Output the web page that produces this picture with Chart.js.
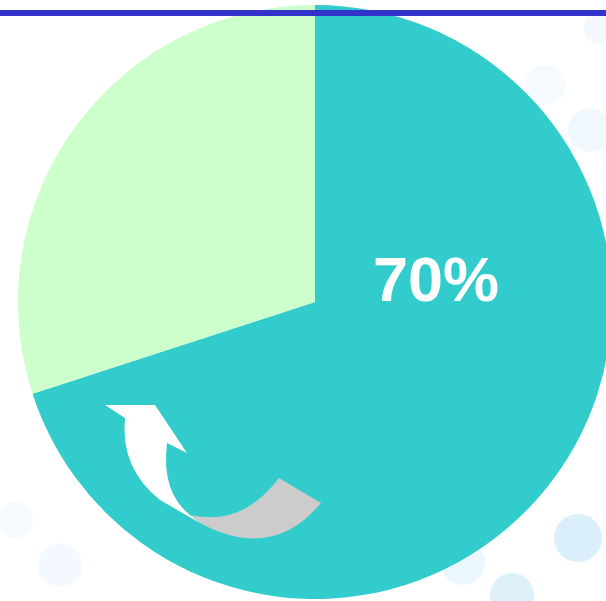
<!DOCTYPE html>
<html lang="zh-CN">
<head>
    <meta charset="UTF-8">
    <title>Pie</title>
    <script src="https://cdn.jsdelivr.net/npm/chart.js"></script>
    <style>
        html, body { margin: 0; padding: 0; overflow: hidden; background: #ffffff; }
        .chart-container {
            position: absolute;
            left: 0;
            top: 0;
            width: 630px;
            height: 601px;
        }
    </style>
</head>
<body>
    <div class="chart-container">
        <canvas id="pieChart"></canvas>
    </div>

    <script>
        // dados
        const categorias = ['A', 'B'];
        const valores = [70, 30];
        const cores = ['#33CCCC', '#CCFFCC'];
        const rotulo = '70%';

        // fundo com bolhas claras
        const fundo = {
            id: 'fundo',
            beforeDraw(chart) {
                const ctx = chart.ctx;
                ctx.save();
                ctx.fillStyle = '#ffffff';
                ctx.fillRect(0, 0, chart.width, chart.height);
                const bolhas = [
                    [578, 538, 24, 'rgba(190,225,245,0.55)'],
                    [512, 595, 22, 'rgba(190,225,245,0.5)'],
                    [463, 563, 22, 'rgba(200,230,248,0.35)'],
                    [590, 130, 22, 'rgba(215,235,250,0.35)'],
                    [545, 85, 20, 'rgba(220,238,250,0.3)'],
                    [600, 28, 16, 'rgba(220,238,250,0.35)'],
                    [60, 565, 22, 'rgba(225,240,252,0.4)'],
                    [15, 520, 18, 'rgba(230,242,252,0.35)']
                ];
                bolhas.forEach(b => {
                    ctx.beginPath();
                    ctx.arc(b[0], b[1], b[2], 0, Math.PI * 2);
                    ctx.fillStyle = b[3];
                    ctx.fill();
                });
                ctx.restore();
            }
        };

        // linha azul, texto e seta
        const enfeites = {
            id: 'enfeites',
            afterDraw(chart) {
                const ctx = chart.ctx;
                const arc = chart.getDatasetMeta(0).data[0];
                const cx = arc.x, cy = arc.y;
                ctx.save();

                // seta branca
                ctx.translate(cx - 315, cy - 302);
                ctx.beginPath();
                ctx.moveTo(105, 405);
                ctx.lineTo(155, 405);
                ctx.lineTo(187, 453);
                ctx.lineTo(167, 443);
                ctx.quadraticCurveTo(161, 492, 190, 515);
                ctx.lineTo(200, 523);
                ctx.lineTo(160, 500);
                ctx.quadraticCurveTo(120, 468, 125, 418);
                ctx.closePath();
                ctx.fillStyle = '#ffffff';
                ctx.fill();

                // faixa cinza
                ctx.beginPath();
                ctx.moveTo(190, 515);
                ctx.quadraticCurveTo(242, 527, 279, 478);
                ctx.lineTo(321, 503);
                ctx.quadraticCurveTo(272, 562, 200, 523);
                ctx.closePath();
                ctx.fillStyle = '#CCCCCC';
                ctx.fill();
                ctx.setTransform(1, 0, 0, 1, 0, 0);

                // texto
                ctx.fillStyle = '#ffffff';
                ctx.font = 'bold 63px "Liberation Sans", Arial, sans-serif';
                ctx.textAlign = 'center';
                ctx.textBaseline = 'middle';
                ctx.fillText(rotulo, cx + 121, cy - 18);

                // linha azul no topo
                ctx.fillStyle = '#3333CC';
                ctx.fillRect(0, 10, chart.width, 6);
                ctx.restore();
            }
        };

        new Chart(document.getElementById('pieChart'), {
            type: 'pie',
            data: {
                labels: categorias,
                datasets: [{
                    data: valores,
                    backgroundColor: cores,
                    borderWidth: 0
                }]
            },
            options: {
                responsive: true,
                maintainAspectRatio: false,
                animation: false,
                layout: { padding: { left: 18, right: 18, top: 5, bottom: 2 } },
                plugins: {
                    legend: { display: false },
                    tooltip: { enabled: false }
                }
            },
            plugins: [fundo, enfeites]
        });
    </script>
</body>
</html>
